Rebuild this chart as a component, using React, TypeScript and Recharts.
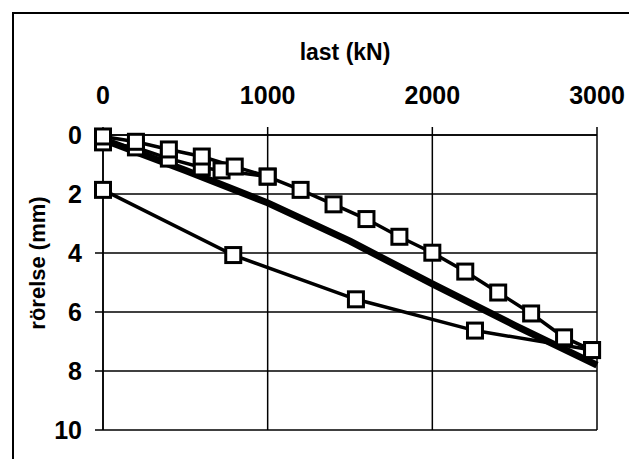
import React from 'react';
import { LineChart, Line, XAxis, YAxis, CartesianGrid } from 'recharts';

// belastning (pålastning)
const loadKN = [0, 200, 400, 600, 800, 1000, 1200, 1400, 1600, 1800, 2000, 2200, 2400, 2600, 2800, 2970];
const loadMM = [0.05, 0.23, 0.49, 0.73, 1.07, 1.41, 1.86, 2.35, 2.85, 3.45, 3.99, 4.63, 5.34, 6.05, 6.86, 7.29];

// återbelastning
const reloadKN = [0, 200, 400, 600, 720, 1000];
const reloadMM = [0.25, 0.42, 0.8, 1.1, 1.2, 1.41];

// avlastning
const unloadKN = [2970, 2259, 1536, 791, 0];
const unloadMM = [7.29, 6.63, 5.57, 4.07, 1.86];

// tjock linje
const thickKN = [0, 500, 1000, 1500, 2000, 2500, 3000];
const thickMM = [0.15, 1.2, 2.3, 3.6, 5.05, 6.45, 7.8];

const xTicks = [0, 1000, 2000, 3000];
const yTicks = [0, 2, 4, 6, 8, 10];

const toPoints = (xs: number[], ys: number[]) => xs.map((x, i) => ({ x, y: ys[i] }));

const Square = (props: any) => {
  const { cx, cy, index } = props;
  if (cx == null || cy == null) return null;
  return (
    <rect
      key={`sq-${index}`}
      x={cx - 7.5}
      y={cy - 7.5}
      width={15}
      height={15}
      fill="#fff"
      stroke="#000"
      strokeWidth={3}
    />
  );
};

const font = '"Liberation Sans", Arial, Helvetica, sans-serif';
const tickStyle = { fontSize: 25, fontWeight: 700, fill: '#000', fontFamily: font };

export default function App() {
  return (
    <div style={{ position: 'absolute', left: 0, top: 0, width: 629, height: 459, background: '#fff', overflow: 'hidden', fontFamily: font }}>
      <div style={{ position: 'absolute', left: 12, top: 12, width: 640, height: 480, borderLeft: '2px solid #000', borderTop: '2px solid #000' }} />
      <div style={{ position: 'absolute', left: 245, width: 200, top: 39, textAlign: 'center', fontSize: 23, fontWeight: 700 }}>
        last (kN)
      </div>
      <div
        style={{
          position: 'absolute',
          left: 38 - 100,
          top: 263 - 14,
          width: 200,
          height: 28,
          lineHeight: '28px',
          textAlign: 'center',
          fontSize: 22,
          fontWeight: 700,
          transform: 'rotate(-90deg)',
        }}
      >
        rörelse (mm)
      </div>
      <LineChart width={629} height={459} margin={{ top: 0, left: 0, right: 32, bottom: 29 }} style={{ position: 'absolute', left: 0, top: 0 }}>
        <CartesianGrid stroke="#000" strokeWidth={1.5} />
        <XAxis
          dataKey="x"
          type="number"
          orientation="top"
          domain={[0, 3000]}
          ticks={xTicks}
          height={135}
          tick={tickStyle}
          tickSize={8}
          tickMargin={23}
          stroke="#000"
          strokeWidth={1.5}
        />
        <YAxis
          dataKey="y"
          type="number"
          reversed
          domain={[0, 10]}
          ticks={yTicks}
          width={103}
          tick={tickStyle}
          tickSize={8}
          tickMargin={13}
          stroke="#000"
          strokeWidth={1.5}
        />
        <Line data={toPoints(thickKN, thickMM)} dataKey="y" stroke="#000" strokeWidth={7} dot={false} isAnimationActive={false} />
        <Line data={toPoints(unloadKN, unloadMM)} dataKey="y" stroke="#000" strokeWidth={3.5} dot={Square} isAnimationActive={false} />
        <Line data={toPoints(reloadKN, reloadMM)} dataKey="y" stroke="#000" strokeWidth={3.5} dot={Square} isAnimationActive={false} />
        <Line data={toPoints(loadKN, loadMM)} dataKey="y" stroke="#000" strokeWidth={3.5} dot={Square} isAnimationActive={false} />
      </LineChart>
    </div>
  );
}
